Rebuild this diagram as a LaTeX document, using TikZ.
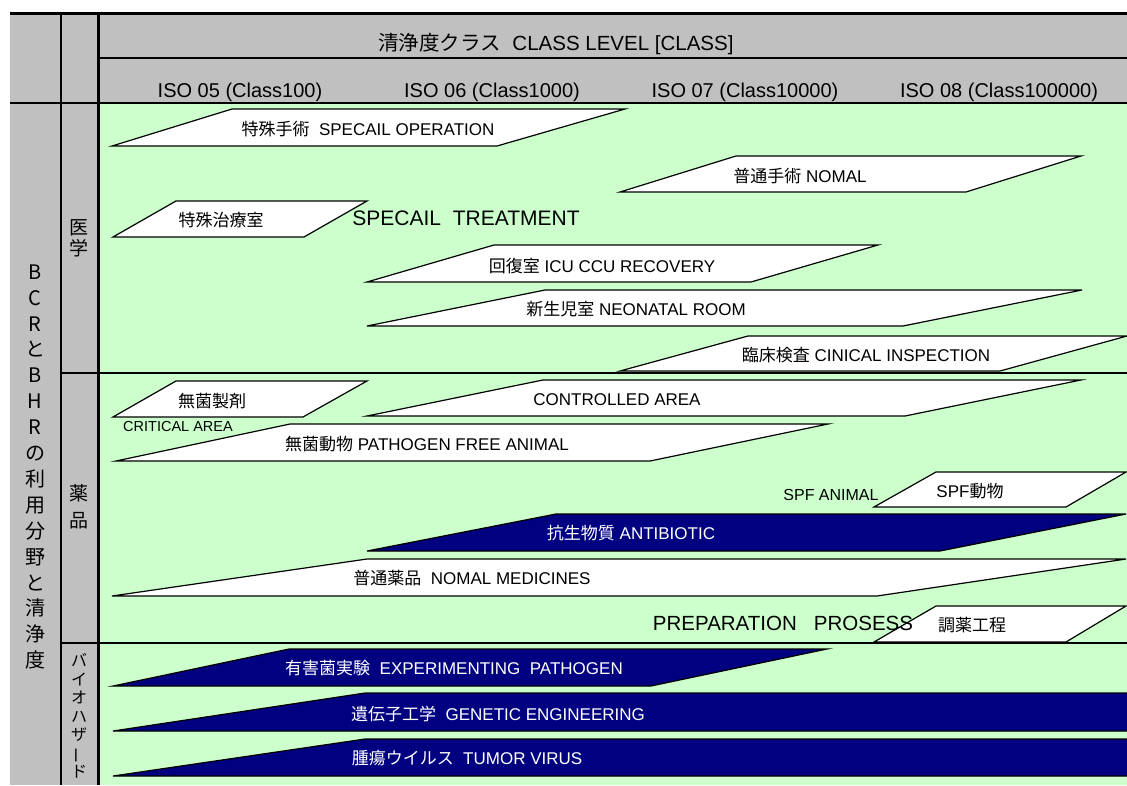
\documentclass[tikz,border=0pt]{standalone}
\usepackage{fontspec}
\setmainfont{Liberation Sans}
\newfontfamily\jp{Noto Sans CJK JP}
\definecolor{hdrgray}{HTML}{C0C0C0}
\definecolor{bggreen}{HTML}{CCFFCC}
\definecolor{navyblue}{HTML}{000080}
\tikzset{
  wbox/.style={fill=white,draw=black,line width=1.2pt},
  nbox/.style={fill=navyblue,draw=black,line width=1.2pt},
  lab/.style={inner sep=0pt,font=\fontsize{17}{20}\selectfont},
  wlab/.style={lab,text=white},
  gridline/.style={line width=2.5pt,black},
  hdrtext/.style={inner sep=0pt,font=\fontsize{20.5}{24}\selectfont},
  vlab/.style={inner sep=0pt,align=center},
}
\newcommand{\J}[1]{{\jp #1}}
\begin{document}
\begin{tikzpicture}[x=1pt,y=-1pt]
\useasboundingbox (0,0) rectangle (1127,785);
% backgrounds
\fill[hdrgray] (10,13) rectangle (1127,103);
\fill[hdrgray] (10,103) rectangle (98,785);
\fill[bggreen] (98,103) rectangle (1127,785);

\begin{scope}
\clip (98,103) rectangle (1127,785);
% medical
\draw[wbox] (112,146) -- (497,146) -- (625,109) -- (232,109) -- cycle;
\draw[wbox] (620,192) -- (966,192) -- (1081,156) -- (736,156) -- cycle;
\draw[wbox] (113,237) -- (304,237) -- (367,201) -- (176,201) -- cycle;
\draw[wbox] (367,282) -- (751,282) -- (878,245) -- (494,245) -- cycle;
\draw[wbox] (367,326) -- (903,326) -- (1082,290) -- (545,290) -- cycle;
\draw[wbox] (620,371) -- (1000,371) -- (1127,336) -- (748,336) -- cycle;
% pharma
\draw[wbox] (113,417) -- (303,417) -- (367,381) -- (176,381) -- cycle;
\draw[wbox] (367,416) -- (905,416) -- (1081,380) -- (543,380) -- cycle;
\draw[wbox] (116,461) -- (650,461) -- (828,424) -- (290,424) -- cycle;
\draw[wbox] (874,507) -- (1066,507) -- (1126,472) -- (936,472) -- cycle;
\draw[nbox] (367,551) -- (940,551) -- (1126,514) -- (556,514) -- cycle;
\draw[wbox] (112,596) -- (877,596) -- (1126,559) -- (367,559) -- cycle;
\draw[wbox] (874,642) -- (1066,642) -- (1126,606) -- (936,606) -- cycle;
% biohazard
\draw[nbox] (113,686) -- (651,686) -- (827,649) -- (289,649) -- cycle;
\draw[nbox] (113,731) -- (1140,731) -- (1390,693) -- (365,693) -- cycle;
\draw[nbox] (113,776) -- (1140,776) -- (1390,739) -- (365,739) -- cycle;
\end{scope}

% grid lines
\draw[gridline,line width=3pt] (10,13) -- (1127,13);
\draw[gridline] (98,58) -- (1127,58);
\draw[gridline] (10,103) -- (1127,103);
\draw[gridline,line width=2pt] (61,13) -- (61,785);
\draw[gridline,line width=3pt] (98,13) -- (98,785);
\draw[gridline] (61,373) -- (1127,373);
\draw[gridline] (61,643) -- (1127,643);

% header texts
\node[hdrtext] (hdr) at (556,44) {\J{清浄度クラス}\ \ CLASS LEVEL [CLASS]};
\node[hdrtext,font=\fontsize{20}{24}\selectfont] (iso5) at (240,92) {ISO 05 (Class100)};
\node[hdrtext,font=\fontsize{20}{24}\selectfont] (iso6) at (492,92) {ISO 06 (Class1000)};
\node[hdrtext,font=\fontsize{20}{24}\selectfont] (iso7) at (745,92) {ISO 07 (Class10000)};
\node[hdrtext,font=\fontsize{20}{24}\selectfont] (iso8) at (999,92) {ISO 08 (Class100000)};

% vertical labels
\node[vlab,font=\jp\fontsize{20}{25.9}\selectfont] (field) at (35,467)
  {B\\C\\R\\と\\B\\H\\R\\の\\利\\用\\分\\野\\と\\清\\浄\\度};
\node[vlab,font=\jp\fontsize{19}{21}\selectfont] (med) at (79,238) {医\\学};
\node[vlab,font=\jp\fontsize{19}{27}\selectfont] (pharm) at (79,507) {薬\\品};
\node[vlab,font=\jp\fontsize{16}{18.5}\selectfont] (bio) at (79,716)
  {バ\\イ\\オ\\ハ\\ザ\\\rotatebox[origin=c]{90}{ー}\\ド};

% shape labels
\node[lab] (op) at (368,129) {\J{特殊手術}\ \ SPECAIL OPERATION};
\node[lab] (nomal) at (800,176) {\J{普通手術} NOMAL};
\node[lab] (sproom) at (221,220) {\J{特殊治療室}};
\node[inner sep=0pt,font=\fontsize{21}{24}\selectfont] (sptreat) at (466,218) {SPECAIL\ \ TREATMENT};
\node[lab] (icu) at (602,266) {\J{回復室} ICU CCU RECOVERY};
\node[lab] (neo) at (636,309) {\J{新生児室} NEONATAL ROOM};
\node[lab] (clin) at (866,355) {\J{臨床検査} CINICAL INSPECTION};
\node[lab] (aseptic) at (212,401) {\J{無菌製剤}};
\node[inner sep=0pt,font=\fontsize{14.5}{16}\selectfont] (crit) at (178,427) {CRITICAL AREA};
\node[lab] (ctrl) at (617,400) {CONTROLLED AREA};
\node[lab] (pfa) at (427,444) {\J{無菌動物} PATHOGEN FREE ANIMAL};
\node[inner sep=0pt,font=\fontsize{16}{18}\selectfont] (spfen) at (831,495) {SPF ANIMAL};
\node[lab] (spfjp) at (970,491) {SPF\J{動物}};
\node[wlab] (anti) at (631,533) {\J{抗生物質} ANTIBIOTIC};
\node[lab] (med2) at (472,578) {\J{普通薬品}\ \ NOMAL MEDICINES};
\node[inner sep=0pt,font=\fontsize{20.5}{24}\selectfont] (prep) at (783,623) {PREPARATION\ \ \ PROSESS};
\node[lab] (prepjp) at (972,625) {\J{調薬工程}};
\node[wlab] (exp) at (454,668) {\J{有害菌実験}\ \ EXPERIMENTING\ \ PATHOGEN};
\node[wlab] (gen) at (498,714) {\J{遺伝子工学}\ \ GENETIC ENGINEERING};
\node[wlab] (tum) at (467,758) {\J{腫瘍ウイルス}\ \ TUMOR VIRUS};
\end{tikzpicture}
\end{document}
